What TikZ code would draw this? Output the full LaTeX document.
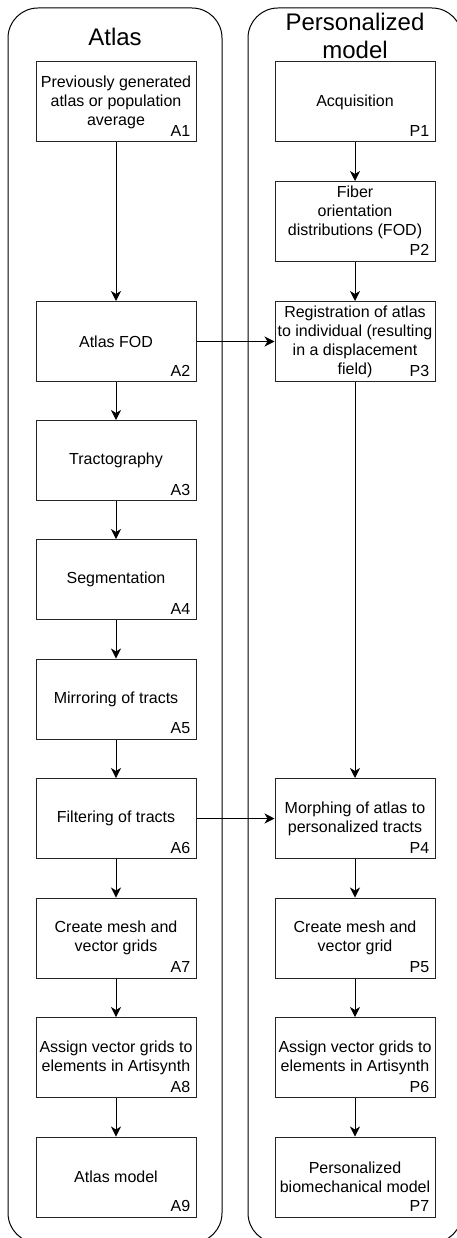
\documentclass[tikz,border=0pt]{standalone}
\usepackage{fontspec}
\setmainfont{Liberation Sans}
\usetikzlibrary{arrows.meta}

\begin{document}
\begin{tikzpicture}[x=1pt, y=-1pt,
  lane/.style={draw, line width=1pt, rounded corners=30pt, minimum width=214pt, minimum height=1235pt, inner sep=0pt},
  stepbox/.style={draw=black!85, line width=1pt, minimum width=160pt, minimum height=80pt, inner sep=0pt, align=center, font=\fontsize{16}{19}\selectfont},
  tag/.style={anchor=base east, inner sep=0pt, font=\fontsize{16}{19}\selectfont},
  head/.style={align=center, font=\fontsize{24}{28}\selectfont},
  flow/.style={line width=1pt, -{Stealth[length=10pt, width=10pt, inset=3pt]}}]
  \useasboundingbox (0,0) rectangle (457,1238);

  \node[lane] (atlaslane) at (115,625.5) {};
  \node[lane] (perslane) at (355,625.5) {};
  \node[head] (atlashead) at (115,37) {Atlas};
  \node[head] (pershead) at (355,36) {Personalized\\model};

  \node[stepbox] (a1) at (116,102) {Previously generated\\atlas or population\\average};
  \node[stepbox] (a2) at (116,341.5) {Atlas FOD};
  \node[stepbox] (a3) at (116,460.5) {Tractography};
  \node[stepbox] (a4) at (116,579.5) {Segmentation};
  \node[stepbox] (a5) at (116,699) {Mirroring of tracts};
  \node[stepbox] (a6) at (116,818.5) {Filtering of tracts};
  \node[stepbox] (a7) at (116,938) {Create mesh and\\vector grids};
  \node[stepbox] (a8) at (116,1057.5) {Assign vector grids to\\elements in Artisynth};
  \node[stepbox] (a9) at (116,1177) {Atlas model};

  \node[stepbox] (p1) at (355,102) {Acquisition};
  \node[stepbox] (p2) at (355,221.5) {Fiber\\orientation\\distributions (FOD)\\[-3pt]\strut};
  \node[stepbox] (p3) at (355,341.5) {Registration of atlas\\to individual (resulting\\in a displacement\\field)};
  \node[stepbox] (p4) at (355,818.5) {Morphing of atlas to\\personalized tracts};
  \node[stepbox] (p5) at (355,938) {Create mesh and\\vector grid};
  \node[stepbox] (p6) at (355,1057.5) {Assign vector grids to\\elements in Artisynth};
  \node[stepbox] (p7) at (355,1177) {Personalized\\biomechanical model};

  \node[tag] (ta1) at ([xshift=-6pt, yshift=6pt]a1.south east) {A1};
  \node[tag] (ta2) at ([xshift=-6pt, yshift=6pt]a2.south east) {A2};
  \node[tag] (ta3) at ([xshift=-6pt, yshift=6pt]a3.south east) {A3};
  \node[tag] (ta4) at ([xshift=-6pt, yshift=6pt]a4.south east) {A4};
  \node[tag] (ta5) at ([xshift=-6pt, yshift=6pt]a5.south east) {A5};
  \node[tag] (ta6) at ([xshift=-6pt, yshift=6pt]a6.south east) {A6};
  \node[tag] (ta7) at ([xshift=-6pt, yshift=6pt]a7.south east) {A7};
  \node[tag] (ta8) at ([xshift=-6pt, yshift=6pt]a8.south east) {A8};
  \node[tag] (ta9) at ([xshift=-6pt, yshift=6pt]a9.south east) {A9};
  \node[tag] (tp1) at ([xshift=-6pt, yshift=6pt]p1.south east) {P1};
  \node[tag] (tp2) at ([xshift=-6pt, yshift=6pt]p2.south east) {P2};
  \node[tag] (tp3) at ([xshift=-6pt, yshift=6pt]p3.south east) {P3};
  \node[tag] (tp4) at ([xshift=-6pt, yshift=6pt]p4.south east) {P4};
  \node[tag] (tp5) at ([xshift=-6pt, yshift=6pt]p5.south east) {P5};
  \node[tag] (tp6) at ([xshift=-6pt, yshift=6pt]p6.south east) {P6};
  \node[tag] (tp7) at ([xshift=-6pt, yshift=6pt]p7.south east) {P7};

  \draw[flow] (a1) -- (a2);
  \draw[flow] (a2) -- (a3);
  \draw[flow] (a3) -- (a4);
  \draw[flow] (a4) -- (a5);
  \draw[flow] (a5) -- (a6);
  \draw[flow] (a6) -- (a7);
  \draw[flow] (a7) -- (a8);
  \draw[flow] (a8) -- (a9);

  \draw[flow] (p1) -- (p2);
  \draw[flow] (p2) -- (p3);
  \draw[flow] (p3) -- (p4);
  \draw[flow] (p4) -- (p5);
  \draw[flow] (p5) -- (p6);
  \draw[flow] (p6) -- (p7);

  \draw[flow] (a2) -- (p3);
  \draw[flow] (a6) -- (p4);
\end{tikzpicture}
\end{document}
